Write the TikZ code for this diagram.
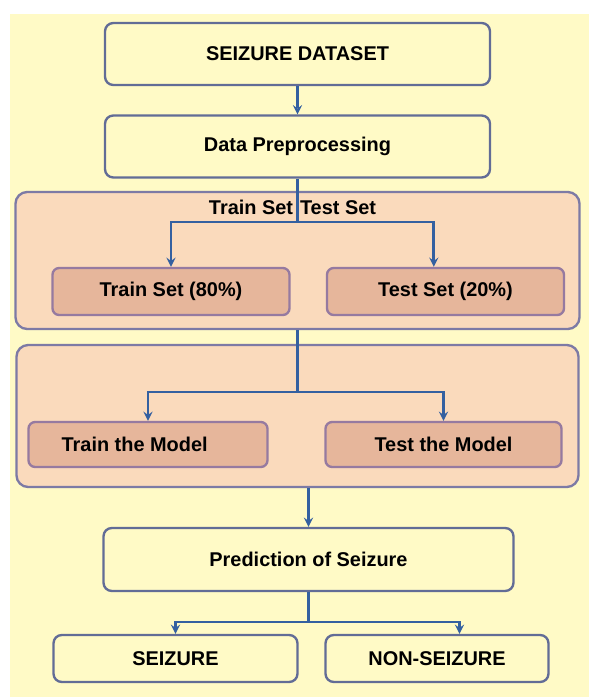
\documentclass[tikz,border=0pt]{standalone}
\usepackage{fontspec}
\setmainfont{Liberation Sans}
\usetikzlibrary{shapes,arrows,positioning}
\definecolor{bgyellow}{RGB}{255,250,198}
\definecolor{peach}{RGB}{250,218,188}
\definecolor{tanbox}{RGB}{230,182,155}
\definecolor{boxline}{RGB}{98,108,150}
\definecolor{panelline}{RGB}{125,122,165}
\definecolor{subline}{RGB}{150,122,160}
\definecolor{arrowblue}{RGB}{52,96,160}
\tikzstyle{block} = [rectangle, rounded corners=0.25cm, minimum width=11.55cm, minimum height=1.86cm, text centered, draw=boxline, line width=2pt, fill=bgyellow, font=\fontsize{17}{20}\selectfont\bfseries]
\tikzstyle{panel} = [rectangle, rounded corners=0.35cm, minimum width=16.92cm, minimum height=4.11cm, draw=panelline, line width=2pt, fill=peach]
\tikzstyle{subset} = [rectangle, rounded corners=0.2cm, minimum width=7.11cm, minimum height=1.41cm, inner sep=0.1cm, text centered, draw=subline, line width=2pt, fill=tanbox, font=\fontsize{17}{20}\selectfont\bfseries]
\tikzstyle{result} = [block, minimum width=7.32cm, minimum height=1.41cm]
\tikzstyle{arrow} = [->,>=stealth, draw=arrowblue, line width=2.4pt]

\begin{document}
\begin{tikzpicture}[node distance=2cm]
  \useasboundingbox (-8.925,1.62) rectangle (8.745,-19.38);
  \fill[bgyellow] (-8.625,1.2) rectangle (8.745,-19.29);
  \node[block](ds){SEIZURE DATASET};
  \node[block, below of=ds, node distance=2.775cm](pre){Data Preprocessing};
  \node[panel, below of=pre, node distance=3.42cm](split){};
  \node[above of=split, node distance=1.605cm, xshift=-0.15cm, font=\fontsize{17}{20}\selectfont\bfseries](lbl){Train Set\hspace{0.35em}Test Set};
  \node[subset, below of=split, node distance=0.93cm, xshift=-3.795cm](trs){Train Set (80\%)};
  \node[subset, right of=trs, node distance=8.235cm](tes){Test Set (20\%)};
  \node[panel, below of=split, node distance=4.665cm, minimum width=16.86cm, minimum height=4.26cm](model){};
  \node[subset, below of=model, node distance=0.855cm, xshift=-4.485cm, minimum width=7.17cm, minimum height=1.35cm](trm){Train the Model\hspace*{0.8cm}};
  \node[subset, right of=trm, node distance=8.865cm, minimum width=7.08cm, minimum height=1.35cm](tem){Test the Model};
  \node[block, below of=model, node distance=4.305cm, xshift=0.33cm, minimum width=12.3cm, minimum height=1.89cm](pred){Prediction of Seizure};
  \node[result, below of=pred, node distance=2.97cm, xshift=-3.99cm](sz){SEIZURE};
  \node[result, right of=sz, node distance=7.845cm, minimum width=6.69cm](nsz){NON-SEIZURE};
  % branch points
  \coordinate[below of=pre, node distance=2.265cm](b1);
  \coordinate[below of=split, node distance=3.945cm](b2);
  \coordinate[below of=pred, node distance=1.875cm](b3);
  \draw[arrow](ds) -- (pre);
  \draw[arrow](pre) -- (b1) -| (trs.north);
  \draw[arrow](b1) -| ([xshift=-0.35cm]tes.north);
  \draw[arrow](split) -- (b2) -| (trm.north);
  \draw[arrow](b2) -| (tem.north);
  \draw[arrow](pred.north |- model.south) -- (pred);
  \draw[arrow](pred) -- (b3) -| (sz.north);
  \draw[arrow](b3) -| ([xshift=0.675cm]nsz.north);
\end{tikzpicture}
\end{document}
